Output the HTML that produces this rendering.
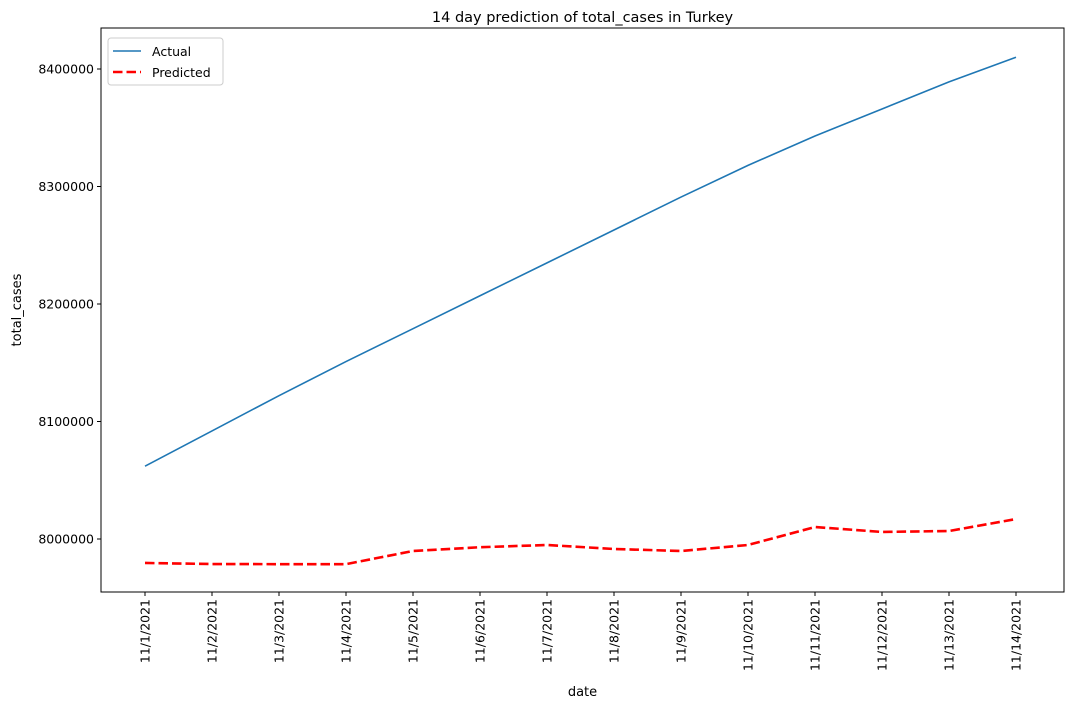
<!DOCTYPE html>
<html><head><meta charset="utf-8"><style>
body{margin:0;background:#fff;font-family:"Liberation Sans","DejaVu Sans",sans-serif;}
svg text{font-family:"DejaVu Sans","Liberation Sans",sans-serif;}
</style></head><body>
<svg id="chart" width="1070" height="709" xmlns="http://www.w3.org/2000/svg"></svg>
<script>
const categories=["11/1/2021","11/2/2021","11/3/2021","11/4/2021","11/5/2021","11/6/2021","11/7/2021","11/8/2021","11/9/2021","11/10/2021","11/11/2021","11/12/2021","11/13/2021","11/14/2021"];
const actualValues=[8062000,8092000,8122000,8151000,8179000,8207000,8235000,8263000,8291000,8318000,8343000,8366000,8389000,8410000];
const predictedValues=[7979600,7978700,7978600,7978600,7989800,7993000,7994900,7991500,7989800,7994900,8010200,8006000,8006800,8017000];
const yTicks=[8000000,8100000,8200000,8300000,8400000];
const NS="http://www.w3.org/2000/svg";
const svg=document.getElementById('chart');
const L=101,R=1064,T=28,B=592;
function xS(i){return 145+i*(1016-145)/(categories.length-1);}
function yS(v){return 539-(v-8000000)*(539-69)/400000;}
function mk(tag,attrs,parent){const e=document.createElementNS(NS,tag);for(const k in attrs)e.setAttribute(k,attrs[k]);(parent||svg).appendChild(e);return e;}
let t=mk('text',{x:(L+R)/2,y:22,'text-anchor':'middle','font-size':14.5,fill:'#000'});t.textContent='14 day prediction of total_cases in Turkey';


yTicks.forEach(v=>{const y=yS(v);
 const l=mk('line',{x1:L-4,x2:L,y1:y,y2:y,stroke:'#000'});
 
 
 const tx=mk('text',{x:L-7,y:y+4.5,'text-anchor':'end','font-size':12.5});tx.textContent=v;
 
 
});
categories.forEach((c,i)=>{const x=xS(i);
 const l=mk('line',{x1:x,x2:x,y1:B,y2:B+4,stroke:'#000'});
 
 
 const tx=mk('text',{x:0,y:0,'text-anchor':'end','font-size':12.5,transform:`translate(${x+4.5},${B+7}) rotate(-90)`});tx.textContent=c;
 
 
});
function path(vals){return vals.map((v,i)=>(i?'L':'M')+xS(i)+','+yS(v)).join(' ');}
let p1=mk('path',{d:path(actualValues),fill:'none',stroke:'#1f77b4','stroke-width':1.6});


let p2=mk('path',{d:path(predictedValues),fill:'none',stroke:'#ff0000','stroke-width':2.6,'stroke-dasharray':'9.5,4'});


let fr=mk('rect',{x:L,y:T,width:R-L,height:B-T,fill:'none',stroke:'#000','stroke-width':1});


let xl=mk('text',{x:(L+R)/2,y:696,'text-anchor':'middle','font-size':13});xl.textContent='date';


let yl=mk('text',{x:0,y:0,'text-anchor':'middle','font-size':13,transform:`translate(21,${(T+B)/2}) rotate(-90)`});yl.textContent='total_cases';


let lg=mk('g',{});


mk('rect',{x:108,y:38,width:115,height:47,rx:3,fill:'#fff',stroke:'#ccc'},lg);
mk('line',{x1:113,x2:141,y1:51,y2:51,stroke:'#1f77b4','stroke-width':1.6},lg);
mk('line',{x1:113,x2:141,y1:72,y2:72,stroke:'#ff0000','stroke-width':2.6,'stroke-dasharray':'9.5,4'},lg);
let a=mk('text',{x:152,y:56,'font-size':12.5},lg);a.textContent='Actual';


let b=mk('text',{x:152,y:77,'font-size':12.5},lg);b.textContent='Predicted';


</script>
</body></html>
